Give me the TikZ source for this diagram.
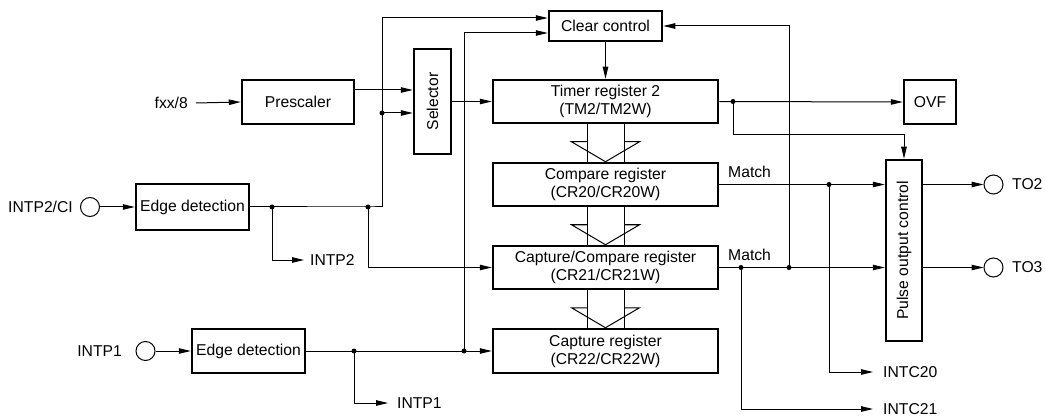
\documentclass[tikz,border=0pt]{standalone}
\usepackage{fontspec}
\setmainfont{Liberation Sans}
\usetikzlibrary{arrows.meta,calc}
\newcommand\diafont{\fontsize{15.7}{18}\selectfont}
\begin{document}
\begin{tikzpicture}[x=1pt,y=-1pt,
  box/.style={draw,line width=2.5pt,inner sep=0pt,align=center,font=\diafont},
  lbl/.style={inner sep=0pt,font=\diafont},
  conn/.style={line width=1pt},
  arr/.style={conn,-{Triangle[length=12pt,width=5.5pt]}},
  dot/.style={circle,fill,inner sep=0pt,minimum size=5pt},
  pin/.style={circle,draw,line width=1pt,minimum size=19pt,inner sep=0pt}]
\useasboundingbox (0,0) rectangle (1045,417);

% boxes
\node[box,minimum width=112pt,minimum height=44pt] (pre) at (298,102) {Prescaler};
\node[box,minimum width=37pt,minimum height=105pt] (sel) at (432.5,101.5) {\rotatebox{90}{Selector}};
\node[box,minimum width=113pt,minimum height=30pt] (clr) at (605.5,26) {Clear control};
\node[box,minimum width=225pt,minimum height=43pt] (tm) at (605.5,101.5) {Timer register 2\\(TM2/TM2W)};
\node[box,minimum width=225pt,minimum height=43pt] (cmp) at (605.5,184.5) {Compare register\\(CR20/CR20W)};
\node[box,minimum width=225pt,minimum height=43pt] (cc) at (605.5,267.5) {Capture/Compare register\\(CR21/CR21W)};
\node[box,minimum width=225pt,minimum height=44pt] (cap) at (605.5,351) {Capture register\\(CR22/CR22W)};
\node[box,minimum width=52pt,minimum height=44pt] (ovf) at (930,102) {OVF};
\node[box,minimum width=36pt,minimum height=181pt] (poc) at (904,250.5) {\rotatebox{90}{Pulse output control}};
\node[box,minimum width=113pt,minimum height=46pt] (ed1) at (192.5,207) {Edge detection};
\node[box,minimum width=113pt,minimum height=44pt] (ed2) at (248.5,351) {Edge detection};

% pins
\node[pin] (p2) at (90,207) {};
\node[pin] (p1) at (145.5,351) {};
\node[pin] (o2) at (993.5,184.5) {};
\node[pin] (o3) at (993.5,267.5) {};

% labels
\node[lbl,anchor=east] (lp2) at (73,207) {INTP2/CI};
\node[lbl,anchor=east] (lp1) at (122,351) {INTP1};
\node[lbl,anchor=east] (lfxx) at (188,103) {fxx/8};
\node[lbl,anchor=west] (lo2) at (1012,184.5) {TO2};
\node[lbl,anchor=west] (lo3) at (1012,267.5) {TO3};
\node[lbl,anchor=west] (lintp2) at (310,260) {INTP2};
\node[lbl,anchor=west] (lintp1) at (397,403) {INTP1};
\node[lbl,anchor=west] (lc20) at (883,372) {INTC20};
\node[lbl,anchor=west] (lc21) at (883,409) {INTC21};
\node[lbl,anchor=west] (m1) at (728,172) {Match};
\node[lbl,anchor=west] (m2) at (728,255) {Match};

% junctions
\node[dot] (jA) at (368,207) {};
\node[dot] (jB) at (272,207) {};
\node[dot] (j1) at (382,113) {};
\node[dot] (jC) at (354,351) {};
\node[dot] (jD) at (464,351) {};
\node[dot] (jE) at (733,101.5) {};
\node[dot] (jF) at (829,184.5) {};
\node[dot] (jG) at (741,267.5) {};
\node[dot] (jH) at (789,267.5) {};
\coordinate (k0) at (0,90);
\coordinate (k1) at (382,18);
\coordinate (k2) at (464,33);
\coordinate (k3) at (904,135);

% connectors
\draw[arr] ([xshift=8pt]lfxx.east) -- (pre.west);
\draw[arr] (pre.east |- k0) -- (sel.west |- k0);
\draw[arr] (j1.center) -- (sel.west |- j1);
\draw[arr] (p2.east) -- (ed1.west);
\draw[arr] (p1.east) -- (ed2.west);
\draw[arr] (ed1.east) -- (jA.center) -| (k1) -- (clr.west |- k1);
\draw[arr] (jB.center) |- ([xshift=-6pt]lintp2.west);
\draw[arr] (jA.center) |- (cc.west);
\draw[arr] (ed2.east) -- (cap.west);
\draw[arr] (jD.center) -- (k2) -- (clr.west |- k2);
\draw[arr] (jC.center) |- ([xshift=-9pt]lintp1.west);
\draw[arr] (clr.south) -- (tm.north);
\draw[arr] (sel.east) -- (tm.west);
\draw[arr] (tm.east) -- (ovf.west);
\draw[arr] (jE.center) |- (k3) -- (poc.north);
\draw[arr] (cmp.east) -- (poc.west |- cmp.east);
\draw[arr] (cc.east) -- (poc.west |- cc.east);
\draw[arr] (jF.center) |- ([xshift=-10pt]lc20.west);
\draw[arr] (jG.center) |- ([xshift=-10pt]lc21.west);
\draw[arr] (jH.center) |- (clr.east);
\draw[arr] (poc.east |- o2) -- (o2.west);
\draw[arr] (poc.east |- o3) -- (o3.west);

% hollow transfer arrows
\foreach \a/\b in {tm/cmp,cmp/cc,cc/cap}{
  \draw[conn] ($(\a.south)+(-18.5,0)$) -- ($(\b.north)+(-18.5,0)$);
  \draw[conn] ($(\a.south)+(18.5,0)$) -- ($(\b.north)+(18.5,0)$);
  \draw[conn] ($(\b.north)+(-18.5,-20)$) -- ($(\b.north)+(-34,-20)$) -- (\b.north)
     -- ($(\b.north)+(34,-20)$) -- ($(\b.north)+(18.5,-20)$);
}
\end{tikzpicture}
\end{document}
